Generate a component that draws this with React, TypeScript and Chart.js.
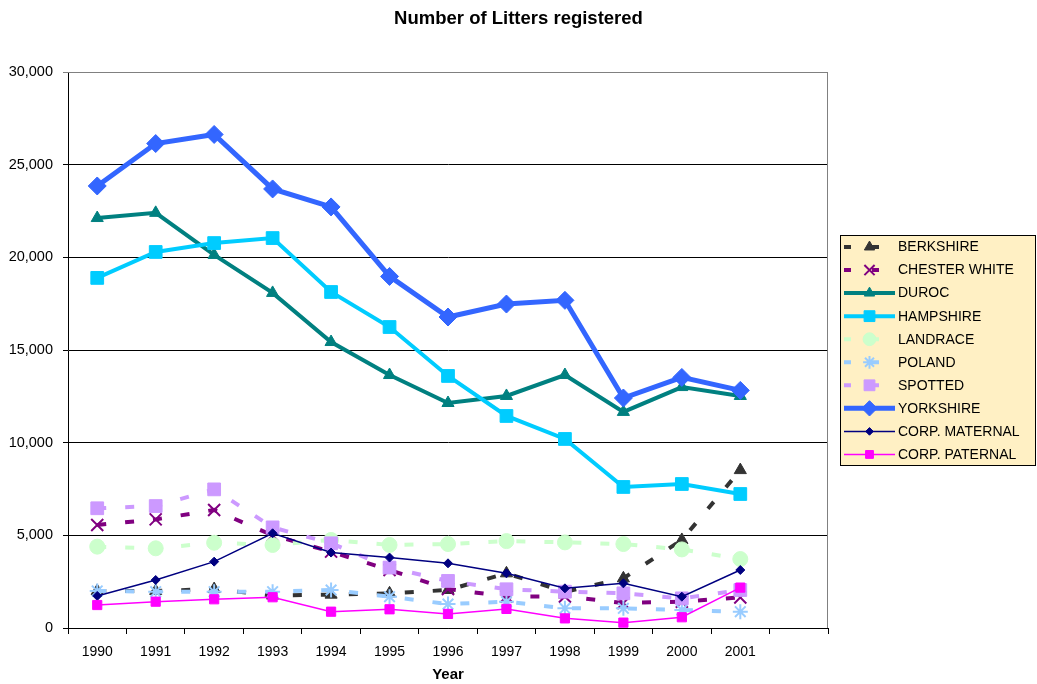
import React, { useEffect, useRef } from 'react';
import { Chart, registerables } from 'chart.js';
import { drawPoint } from 'chart.js/helpers';

Chart.register(...registerables);

const FONT = "'Liberation Sans', Arial, Helvetica, sans-serif";

const chartTitle = 'Number of Litters registered';
const xAxisTitle = 'Year';
const years = ['1990', '1991', '1992', '1993', '1994', '1995', '1996', '1997', '1998', '1999', '2000', '2001', ''];

const berkshire = [2000, 2000, 2100, 1750, 1800, 1870, 2050, 2950, 1950, 2680, 4750, 8520];
const chesterWhite = [5560, 5860, 6370, 5000, 4120, 3130, 2100, 1700, 1700, 1350, 1420, 1650];
const duroc = [22120, 22400, 20130, 18080, 15430, 13650, 12140, 12520, 13650, 11660, 13000, 12520];
const hampshire = [18890, 20290, 20770, 21040, 18130, 16240, 13600, 11440, 10200, 7610, 7770, 7230];
const landrace = [4390, 4300, 4600, 4480, 4750, 4480, 4530, 4690, 4620, 4530, 4240, 3720];
const poland = [2000, 1960, 1960, 1960, 2050, 1690, 1290, 1420, 1060, 1060, 970, 880];
const spotted = [6460, 6580, 7480, 5430, 4570, 3260, 2540, 2090, 1960, 1870, 1600, 2050];
const yorkshire = [23850, 26140, 26630, 23690, 22720, 18970, 16780, 17480, 17680, 12410, 13520, 12820];
const corpMaternal = [1730, 2590, 3580, 5110, 4070, 3800, 3490, 2950, 2140, 2410, 1690, 3130];
const corpPaternal = [1240, 1420, 1550, 1660, 880, 1010, 760, 1030, 520, 290, 580, 2180];

const DASH = [9, 19];

const seriesDefs = [
  { label: 'BERKSHIRE', data: berkshire, color: '#333333', width: 4, dash: DASH, style: 'triangle', radius: 7, border: 1 },
  { label: 'CHESTER WHITE', data: chesterWhite, color: '#800080', width: 4, dash: DASH, style: 'crossRot', radius: 8.5, border: 2 },
  { label: 'DUROC', data: duroc, color: '#008080', width: 4, dash: [], style: 'triangle', radius: 7, border: 1 },
  { label: 'HAMPSHIRE', data: hampshire, color: '#00CCFF', width: 4, dash: [], style: 'rect', radius: 9, border: 1 },
  { label: 'LANDRACE', data: landrace, color: '#CCFFCC', width: 4, dash: DASH, style: 'circle', radius: 7.5, border: 1 },
  { label: 'POLAND', data: poland, color: '#99CCFF', width: 4, dash: DASH, style: 'star', radius: 7.5, border: 2 },
  { label: 'SPOTTED', data: spotted, color: '#CC99FF', width: 4, dash: DASH, style: 'rect', radius: 9, border: 1 },
  { label: 'YORKSHIRE', data: yorkshire, color: '#3366FF', width: 5, dash: [], style: 'rectRot', radius: 9, border: 1 },
  { label: 'CORP. MATERNAL', data: corpMaternal, color: '#000080', width: 1.5, dash: [], style: 'rectRot', radius: 4.5, border: 1 },
  { label: 'CORP. PATERNAL', data: corpPaternal, color: '#FF00FF', width: 1.5, dash: [], style: 'rect', radius: 6.5, border: 1 },
];

const titleCenterPlugin = {
  id: 'titleCenter',
  afterLayout(chart: any) {
    const tb = chart.titleBlock;
    if (tb) {
      tb.left = 0;
      tb.right = chart.width;
      tb.width = chart.width;
    }
  },
};

const borderPlugin = {
  id: 'plotBorder',
  afterDatasetsDraw(chart: any) {
    const { ctx, chartArea } = chart;
    ctx.save();
    ctx.strokeStyle = '#808080';
    ctx.lineWidth = 1;
    ctx.beginPath();
    ctx.moveTo(chartArea.left, chartArea.top + 0.5);
    ctx.lineTo(chartArea.right - 0.5, chartArea.top + 0.5);
    ctx.lineTo(chartArea.right - 0.5, chartArea.bottom);
    ctx.stroke();
    ctx.restore();
  },
};

const legendPlugin = {
  id: 'boxLegend',
  afterDraw(chart: any) {
    const { ctx, chartArea } = chart;
    const datasets = chart.data.datasets;
    const rowH = 23.05;
    const w = 196;
    const h = 231;
    const x0 = chartArea.right + 12;
    const y0 = Math.round((chartArea.top + chartArea.bottom) / 2 - h / 2);
    ctx.save();
    ctx.fillStyle = '#FFF0C4';
    ctx.fillRect(x0, y0, w, h);
    ctx.strokeStyle = '#000000';
    ctx.lineWidth = 1;
    ctx.strokeRect(x0 + 0.5, y0 + 0.5, w - 1, h - 1);
    datasets.forEach((ds: any, i: number) => {
      const cy = y0 + 12 + i * rowH;
      const lx0 = x0 + 4;
      const lx1 = x0 + 55;
      const mx = (lx0 + lx1) / 2;
      ctx.strokeStyle = ds.borderColor;
      ctx.lineWidth = ds.borderWidth;
      const dash = ds.borderDash || [];
      ctx.setLineDash(dash.length ? [7, 21] : []);
      ctx.lineDashOffset = 0;
      ctx.beginPath();
      ctx.moveTo(lx0, cy);
      ctx.lineTo(lx1, cy);
      ctx.stroke();
      ctx.setLineDash([]);
      ctx.fillStyle = ds.pointBackgroundColor;
      ctx.strokeStyle = ds.pointBorderColor;
      ctx.lineWidth = ds.pointBorderWidth;
      drawPoint(ctx, {
        pointStyle: ds.pointStyle,
        radius: ds.pointRadius * 0.85,
        rotation: 0,
        borderWidth: ds.pointBorderWidth,
      } as any, mx, cy);
      ctx.fillStyle = '#000000';
      ctx.font = `14px ${FONT}`;
      ctx.textBaseline = 'middle';
      ctx.textAlign = 'left';
      ctx.fillText(ds.label, x0 + 58, cy + 0.5);
    });
    ctx.restore();
  },
};

export default function App() {
  const canvasRef = useRef<HTMLCanvasElement | null>(null);

  useEffect(() => {
    const canvas = canvasRef.current;
    if (!canvas) return;
    const datasets = seriesDefs.map((s, i) => ({
      label: s.label,
      data: s.data,
      borderColor: s.color,
      backgroundColor: s.color,
      borderWidth: s.width,
      borderDash: s.dash,
      pointStyle: s.style,
      pointRadius: s.radius,
      pointHoverRadius: s.radius,
      pointBackgroundColor: s.color,
      pointBorderColor: s.color,
      pointBorderWidth: s.border,
      tension: 0,
      fill: false,
      order: seriesDefs.length - i,
    }));

    const chart = new Chart(canvas, {
      type: 'line',
      data: { labels: years, datasets },
      options: {
        responsive: false,
        animation: false,
        layout: { padding: { left: 0, right: 209, top: 0, bottom: 0 } },
        plugins: {
          legend: { display: false },
          tooltip: { enabled: false },
          title: {
            display: true,
            text: chartTitle,
            color: '#000000',
            font: { family: FONT, size: 18.5, weight: 'bold' },
            padding: { top: 8, bottom: 41.8 },
          },
        },
        scales: {
          x: {
            type: 'category',
            offset: true,
            afterFit: (scale: any) => { scale.height = 56; },
            grid: {
              display: true,
              offset: true,
              drawOnChartArea: false,
              drawTicks: true,
              tickLength: 6,
              color: '#000000',
            },
            border: { display: true, color: '#000000', width: 1 },
            ticks: {
              color: '#000000',
              font: { family: FONT, size: 14 },
              padding: 10,
              maxRotation: 0,
              autoSkip: false,
            },
            title: {
              display: true,
              text: xAxisTitle,
              color: '#000000',
              font: { family: FONT, size: 15, weight: 'bold' },
              padding: { top: 0, bottom: 0 },
            },
          },
          y: {
            min: 0,
            max: 30000,
            afterFit: (scale: any) => { scale.width = 68; },
            grid: {
              display: true,
              drawOnChartArea: true,
              drawTicks: true,
              tickLength: 5,
              color: (ctx: any) => (ctx.tick && ctx.tick.value === 30000 ? '#808080' : '#000000'),
              lineWidth: 1,
            },
            border: { display: true, color: '#000000', width: 1 },
            ticks: {
              stepSize: 5000,
              color: '#000000',
              font: { family: FONT, size: 14.5 },
              padding: 10,
              callback: (v: any) => Number(v).toLocaleString('en-US'),
            },
          },
        },
      },
      plugins: [titleCenterPlugin, borderPlugin, legendPlugin],
    } as any);

    return () => chart.destroy();
  }, []);

  return (
    <div style={{ position: 'absolute', left: 0, top: 0, width: 1037, height: 684, background: '#ffffff' }}>
      <canvas ref={canvasRef} width={1037} height={684} style={{ display: 'block' }} />
    </div>
  );
}
